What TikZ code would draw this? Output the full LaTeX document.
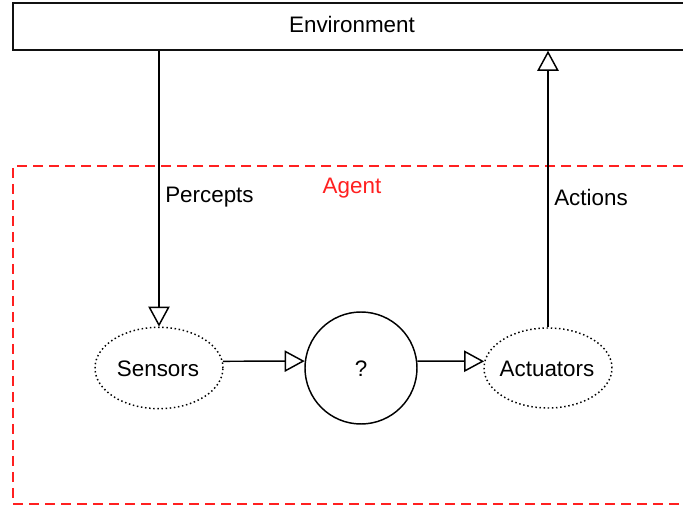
\documentclass[tikz,border=0pt]{standalone}
\usepackage{fontspec}
\setmainfont{Liberation Sans}
\usetikzlibrary{arrows.meta,shapes.geometric}
\definecolor{agentred}{HTML}{FF2020}
\definecolor{edge}{HTML}{111111}
\tikzset{
  lbl/.style={font=\fontsize{16.8}{20}\selectfont, inner sep=0pt},
  envbox/.style={draw=edge, line width=1.15pt, rectangle, inner sep=0pt,
    minimum width=508.5pt, minimum height=35.25pt},
  agentbox/.style={draw=agentred, line width=1.1pt, dash pattern=on 7.5pt off 4.5pt,
    rectangle, inner sep=0pt, minimum width=508.5pt, minimum height=253.5pt},
  part/.style={draw=black, line width=1.1pt, ellipse, dash pattern=on 1.1pt off 2pt,
    inner sep=0pt, minimum width=96pt, minimum height=61pt},
  core/.style={draw=black, line width=1.1pt, circle, inner sep=0pt, minimum size=84pt},
  flow/.style={draw=black, line width=1.1pt,
    -{Triangle[open, length=15pt, width=16pt, line width=1.1pt]}}
}
\begin{document}
\begin{tikzpicture}[x=0.75pt, y=-0.75pt]
  \useasboundingbox (0,0) rectangle (683,509);
  \clip (0,0) rectangle (683,509);

  % outer boxes
  \node[envbox] (env) at (352,26.5) {};
  \node[lbl] (envtext) at (352,24) {Environment};
  \node[agentbox] (agent) at (352,335) {};
  \node[lbl, text=agentred] (agenttext) at (352,188) {Agent};

  % processing chain
  \node[part] (sens) at (159,368) {};
  \node[lbl] (senstext) at (158,369) {Sensors};
  \node[core] (q) at (361,368) {};
  \node[lbl] (qtext) at (361,369) {?};
  \node[part, minimum height=60pt] (act) at (548,368) {};
  \node[lbl] (acttext) at (547,369) {Actuators};

  % connectors
  \draw[flow] (env.south -| sens.north) -- (sens.north);
  \draw[flow] (sens.6) -- (q.173);
  \draw[flow] (q.7) -- (act.174);
  \draw[flow] (act.north) -- (act.north |- env.south);

  % connector labels
  \node[lbl, anchor=west] (perc) at (165,197) {Percepts};
  \node[lbl, anchor=west] (actn) at (554,197) {Actions};
\end{tikzpicture}
\end{document}
